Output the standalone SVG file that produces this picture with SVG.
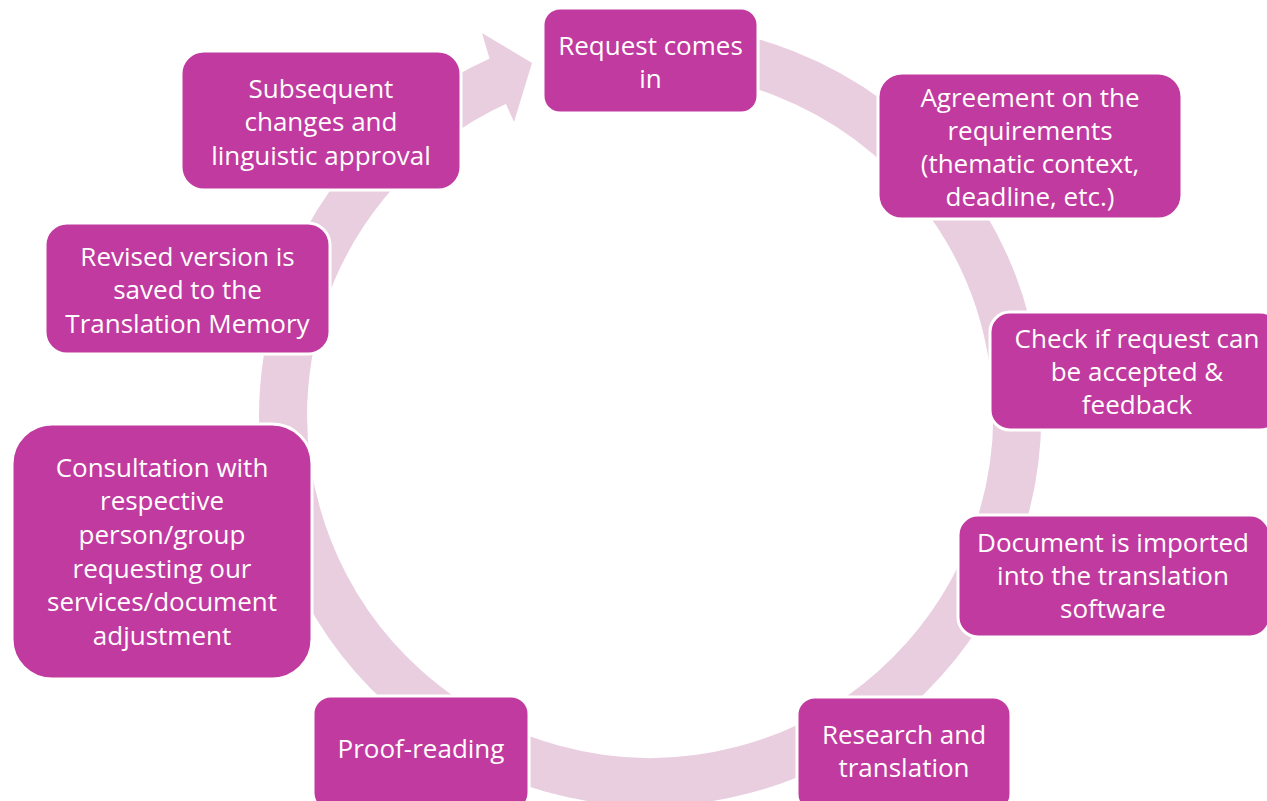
<svg xmlns="http://www.w3.org/2000/svg" width="1267" height="801" viewBox="0 0 1267 801">
<style>
.node rect{fill:#C13AA0;stroke:#FFFFFF;stroke-width:3}
.node text{fill:#FFFFFF;font-family:"Open Sans","Noto Sans",sans-serif;font-size:26px;text-anchor:middle}
.ring{fill:none;stroke:#E9CEE0;stroke-width:48}
.head{fill:#E9CEE0}
</style>
<rect width="1267" height="801" fill="#FFFFFF"/>
<g id="connectors">
<path class="ring" d="M618.0,49.4 A367,367 0 1 1 499.6,80.3"/>
<polygon class="head" points="482,33 532,63 514,122 497,84"/>
</g>
<g id="n1" class="node"><rect x="543" y="8" width="215" height="105" rx="17"/><text x="650.5" y="55">Request comes</text><text x="650.5" y="88">in</text></g>
<g id="n2" class="node"><rect x="878" y="73" width="304" height="146" rx="24"/><text x="1030" y="107">Agreement on the</text><text x="1030" y="140">requirements</text><text x="1030" y="173">(thematic context,</text><text x="1030" y="206">deadline, etc.)</text></g>
<g id="n3" class="node"><rect x="990" y="312" width="290" height="118" rx="20"/><text x="1137" y="348">Check if request can</text><text x="1137" y="381">be accepted &amp;</text><text x="1137" y="414">feedback</text></g>
<g id="n4" class="node"><rect x="958" y="515" width="312" height="122" rx="20"/><text x="1113" y="552">Document is imported</text><text x="1113" y="585">into the translation</text><text x="1113" y="618">software</text></g>
<g id="n5" class="node"><rect x="797" y="697" width="214" height="115" rx="18"/><text x="904" y="744">Research and</text><text x="904" y="777">translation</text></g>
<g id="n6" class="node"><rect x="313" y="696" width="216" height="115" rx="18"/><text x="421" y="758">Proof-reading</text></g>
<g id="n7" class="node"><rect x="12" y="424" width="300" height="255" rx="40"/><text x="162" y="477">Consultation with</text><text x="162" y="510">respective</text><text x="162" y="544">person/group</text><text x="162" y="578">requesting our</text><text x="162" y="611">services/document</text><text x="162" y="645">adjustment</text></g>
<g id="n8" class="node"><rect x="45" y="223" width="285" height="131" rx="22"/><text x="187.5" y="266">Revised version is</text><text x="187.5" y="299">saved to the</text><text x="187.5" y="333">Translation Memory</text></g>
<g id="n9" class="node"><rect x="181" y="51" width="280" height="139" rx="23"/><text x="321" y="98">Subsequent</text><text x="321" y="131">changes and</text><text x="321" y="165">linguistic approval</text></g>
</svg>
